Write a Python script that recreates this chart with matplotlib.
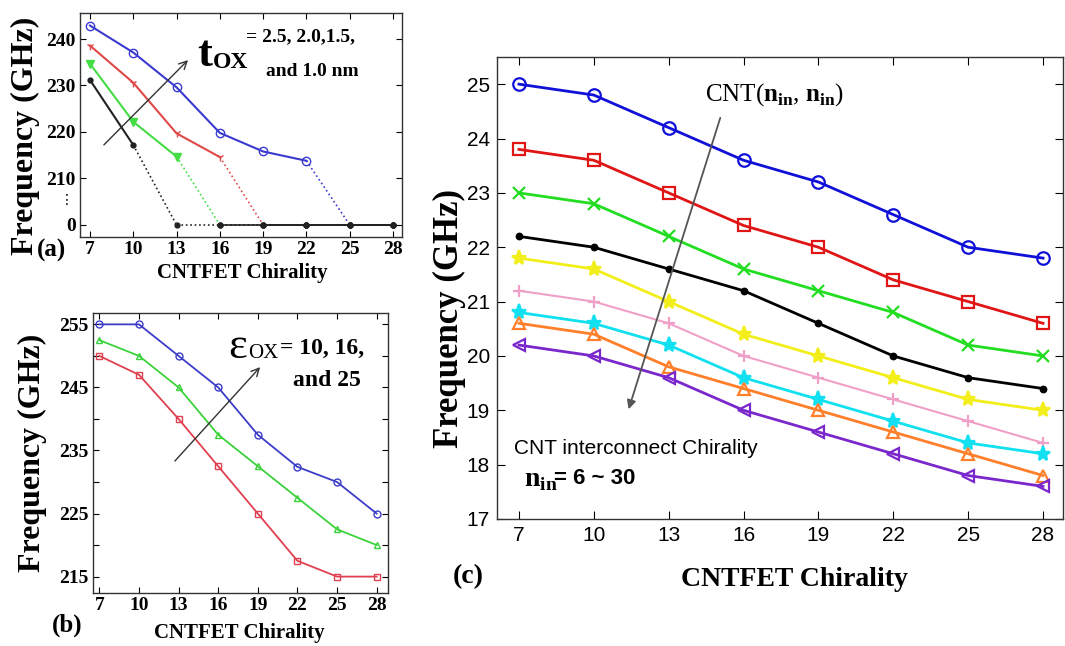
import numpy as np
import matplotlib
matplotlib.use("Agg")
import matplotlib.pyplot as plt

plt.rcParams['mathtext.fontset'] = 'custom'
plt.rcParams['mathtext.rm'] = 'Liberation Serif'
plt.rcParams['mathtext.bf'] = 'Liberation Serif:bold'

W, H = 1065, 646
SERIF = 'Liberation Serif'
SANS = 'Liberation Sans'

# chirality values shared by all panels
chirality = [7, 10, 13, 16, 19, 22, 25, 28]

# (a) oxide thickness sweep, 0 = no oscillation
a_tox_25 = [242.9, 237.1, 229.6, 219.8, 215.8, 213.8, 0, 0]
a_tox_20 = [238.6, 230.6, 219.7, 214.6, 0, 0, 0, 0]
a_tox_15 = [234.7, 222.2, 214.7, 0, 0, 0, 0, 0]
a_tox_10 = [231.2, 217.2, 0, 0, 0, 0, 0, 0]
a_ticks = [0, 210, 220, 230, 240]

# (b) oxide permittivity sweep
b_eps_25 = [255, 255, 250, 245, 237.5, 232.4, 230, 225]
b_eps_16 = [252.5, 250, 245, 237.5, 232.5, 227.5, 222.5, 220]
b_eps_10 = [250, 247, 240, 232.5, 225, 217.5, 215, 215]
b_ticks = [215, 225, 235, 245, 255]

# (c) interconnect chirality sweep
c_series = [
    [25.0, 24.8, 24.2, 23.6, 23.2, 22.6, 22.0, 21.8],
    [23.8, 23.6, 23.0, 22.4, 22.0, 21.4, 21.0, 20.6],
    [23.0, 22.8, 22.2, 21.6, 21.2, 20.8, 20.2, 20.0],
    [22.2, 22.0, 21.6, 21.2, 20.6, 20.0, 19.6, 19.4],
    [21.8, 21.6, 21.0, 20.4, 20.0, 19.6, 19.2, 19.0],
    [21.2, 21.0, 20.6, 20.0, 19.6, 19.2, 18.8, 18.4],
    [20.8, 20.6, 20.2, 19.6, 19.2, 18.8, 18.4, 18.2],
    [20.6, 20.4, 19.8, 19.4, 19.0, 18.6, 18.2, 17.8],
    [20.2, 20.0, 19.6, 19.0, 18.6, 18.2, 17.8, 17.6],
]
c_colors = ['#1010d8', '#e01515', '#22dd22', '#000000', '#f2ee1a',
            '#f0a0c8', '#10e0f0', '#ff7f2a', '#7a28cc']
c_markers = ['o', 's', 'x', '.', '*', '+', '*', '^', '<']


def fx(x):
    return x / W


def fy(y):
    return 1 - y / H


def box(x0, y0, x1, y1):
    return [fx(x0), fy(y1), fx(x1) - fx(x0), fy(y0) - fy(y1)]


fig = plt.figure(figsize=(W / 100, H / 100), dpi=100)


def style_axes(ax, font, size, weight):
    ax.tick_params(direction='in', top=True, right=True, length=4, width=0.8,
                   labelsize=size, pad=3)
    for lab in ax.get_xticklabels() + ax.get_yticklabels():
        lab.set_fontfamily(font)
        lab.set_fontweight(weight)
    for s in ax.spines.values():
        s.set_linewidth(1.0)
        s.set_color('#333333')


# ---------------- (a) ----------------
def fwd(v):
    v = np.asarray(v, dtype=float)
    return np.where(v <= 210, v / 210.0, (v - 200) / 10.0)


def inv(u):
    u = np.asarray(u, dtype=float)
    return np.where(u <= 1, u * 210.0, u * 10.0 + 200)


axa = fig.add_axes(box(80, 13, 402, 237))
axa.set_yscale('function', functions=(fwd, inv))
a_list = [(a_tox_25, '#3a3ad0', 'o'), (a_tox_20, '#e04848', '1'),
          (a_tox_15, '#44dd44', 'v'), (a_tox_10, '#222222', '.')]
for vals, col, mk in a_list:
    k = vals.index(0)
    axa.plot(chirality[:k], vals[:k], color=col, lw=1.5, marker=mk,
             ms=6 if mk != '.' else 7, mfc='none' if mk == 'o' else col, zorder=3)
    axa.plot(chirality[k - 1:k + 1], vals[k - 1:k + 1], color=col, lw=1.2, ls=':')
for vals, col, mk in a_list:
    k = vals.index(0)
    axa.plot(chirality[k:], vals[k:], color='#222222', lw=1.2,
             ls=':' if col == '#222222' else '-', marker='.', ms=7, zorder=4)
axa.set_xlim(6.31, 28.62)
axa.set_ylim(-54.6, 245.6)
axa.set_xticks(chirality)
axa.set_yticks(a_ticks)
style_axes(axa, SERIF, 14, 'bold')
axa.text(-0.04, 0.165, '\u22ee', transform=axa.transAxes, ha='center', va='center',
         fontsize=10, family=['DejaVu Sans'])
axa.annotate('', xy=(13.93, 235.9), xytext=(7.83, 216.8),
             arrowprops=dict(arrowstyle='->', color='#333333', lw=1.0, mutation_scale=14))
fig.text(fx(197), fy(55), 't', family=SERIF, weight='bold', fontsize=32, va='center', ha='left')
fig.text(fx(213), fy(63), 'OX', family=SERIF, weight='bold', fontsize=17, va='center', ha='left')
fig.text(fx(246), fy(37), '= 2.5, 2.0,1.5,', family=SERIF, weight='bold', fontsize=14,
         va='center', ha='left')
fig.text(fx(266), fy(72), 'and 1.0 nm', family=SERIF, weight='bold', fontsize=14,
         va='center', ha='left')
fig.text(fx(25), fy(136), 'Frequency (GHz)', family=SERIF, weight='bold', fontsize=23,
         rotation=90, ha='center', va='center')
fig.text(fx(242), fy(273), 'CNTFET Chirality', family=SERIF, weight='bold', fontsize=15,
         ha='center', va='center')
fig.text(fx(52), fy(250), '(a)', family=SERIF, weight='bold', fontsize=18,
         ha='center', va='center')

# ---------------- (b) ----------------
axb = fig.add_axes(box(93, 313, 388, 593))
for vals, col, mk in [(b_eps_25, '#3c3cc8', 'o'), (b_eps_16, '#3cd23c', '^'),
                      (b_eps_10, '#e04050', 's')]:
    axb.plot(chirality, vals, color=col, lw=1.3, marker=mk, ms=5, mfc='none', mew=1.0)
axb.set_xlim(6.52, 28.86)
axb.set_ylim(212.4, 256.8)
axb.set_xticks(chirality)
axb.set_yticks(np.arange(215, 256, 5))
axb.set_yticklabels([str(v) if v in b_ticks else '' for v in np.arange(215, 256, 5)])
style_axes(axb, SERIF, 14, 'bold')
axb.annotate('', xy=(19.32, 248.55), xytext=(12.58, 233.0),
             arrowprops=dict(arrowstyle='->', color='#333333', lw=1.0, mutation_scale=14))
fig.text(fx(228), fy(347), '\u03b5', family=SERIF, fontsize=32, va='center', ha='left')
fig.text(fx(248), fy(354), 'OX', family=SERIF, fontsize=15, va='center', ha='left')
fig.text(fx(280), fy(348), '= 10, 16,', family=SERIF, fontsize=17, weight='bold',
         va='center', ha='left')
fig.text(fx(293), fy(381), 'and 25', family=SERIF, fontsize=17, weight='bold',
         va='center', ha='left')
fig.text(fx(32), fy(453), 'Frequency (GHz)', family=SERIF, weight='bold', fontsize=23,
         rotation=90, ha='center', va='center')
fig.text(fx(239), fy(633), 'CNTFET Chirality', family=SERIF, weight='bold', fontsize=15,
         ha='center', va='center')
fig.text(fx(67), fy(625), '(b)', family=SERIF, weight='bold', fontsize=18,
         ha='center', va='center')

# ---------------- (c) ----------------
axc = fig.add_axes(box(497, 57, 1063, 519))
for vals, col, mk in zip(c_series, c_colors, c_markers):
    filled = mk in ('.', '*', 'x', '+')
    ms = 9
    if mk == '.':
        ms = 8
    if mk == '*':
        ms = 11
    axc.plot(chirality, vals, color=col, lw=2.0 if col != '#f0a0c8' else 1.5,
             marker=mk, ms=ms, mfc=col if filled else 'none', mew=1.6)
axc.set_xlim(6.12, 28.8)
axc.set_ylim(17, 25.5)
axc.set_xticks(chirality)
axc.set_yticks(range(17, 26))
style_axes(axc, SANS, 15, 'normal')
axc.tick_params(length=6, pad=5)
axc.annotate('', xy=(11.36, 18.97), xytext=(15.1, 24.43),
             arrowprops=dict(arrowstyle='-|>', color='#555555', lw=1.3, mutation_scale=13))
fig.text(fx(774), fy(95), r'CNT($\mathbf{n}_{\mathbf{in}}$, $\mathbf{n}_{\mathbf{in}}$)',
         family=SERIF, fontsize=18, ha='center', va='center')
fig.text(fx(514), fy(448), 'CNT interconnect Chirality', family=SANS, fontsize=15,
         ha='left', va='center')
fig.text(fx(524), fy(480), r'$\mathbf{n}_{\mathbf{in}}$', family=SERIF, fontsize=20,
         ha='left', va='center')
fig.text(fx(554), fy(478), '= 6 ~ 30', family=SANS, weight='bold', fontsize=16,
         ha='left', va='center')
fig.text(fx(449), fy(318), 'Frequency (GHz)', family=SERIF, weight='bold', fontsize=25,
         rotation=90, ha='center', va='center')
fig.text(fx(794), fy(580), 'CNTFET Chirality', family=SERIF, weight='bold', fontsize=20,
         ha='center', va='center')
fig.text(fx(468), fy(577), '(c)', family=SERIF, weight='bold', fontsize=20,
         ha='center', va='center')

fig.savefig('out.png', dpi=100, facecolor='white')
